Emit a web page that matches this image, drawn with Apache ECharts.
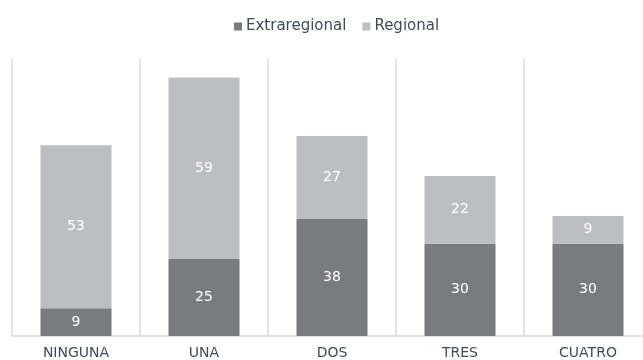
<!DOCTYPE html>
<html>
<head>
<meta charset="utf-8">
<script src="https://cdn.jsdelivr.net/npm/echarts@6/dist/echarts.min.js"></script>
<style>
  html, body { margin: 0; padding: 0; background: #ffffff; overflow: hidden; }
  /* the plot runs slightly past the right edge of the window */
  #chart { width: 660px; height: 360px; }
</style>
</head>
<body>
<div id="chart"></div>
<script>
// Categories and stacked series values
const categories = ['NINGUNA', 'UNA', 'DOS', 'TRES', 'CUATRO'];
const extraregional = [9, 25, 38, 30, 30];
const regional = [53, 59, 27, 22, 9];

const chart = echarts.init(document.getElementById('chart'));

const labelStyle = {
  show: true,
  position: 'inside',
  color: '#ffffff',
  fontFamily: '"DejaVu Sans", sans-serif',
  fontSize: 14
};

chart.setOption({
  animation: false,
  textStyle: { fontFamily: '"DejaVu Sans", sans-serif' },
  legend: {
    top: 14,
    left: 229,
    itemWidth: 8,
    itemHeight: 8,
    itemGap: 16,
    icon: 'rect',
    textStyle: { color: '#3f4a5a', fontSize: 15, padding: [0, 0, 0, -1] },
    data: ['Extraregional', 'Regional']
  },
  grid: { left: 12, width: 640, top: 59, bottom: 24, containLabel: false, outerBoundsMode: 'none' },
  xAxis: {
    type: 'category',
    data: categories,
    axisLine: { lineStyle: { color: '#d9d9d9', width: 1.5 } },
    axisTick: { show: false },
    axisLabel: { color: '#3f4a5a', fontSize: 14, margin: 10 },
    splitLine: { show: true, lineStyle: { color: '#dcdcdc', width: 1.5 } }
  },
  yAxis: {
    type: 'value',
    min: 0,
    max: 90,
    show: false,
    splitLine: { show: false }
  },
  series: [
    {
      name: 'Extraregional',
      type: 'bar',
      stack: 'total',
      barWidth: 71,
      data: extraregional,
      itemStyle: { color: '#7a7b7f' },
      label: labelStyle
    },
    {
      name: 'Regional',
      type: 'bar',
      stack: 'total',
      barWidth: 71,
      data: regional,
      itemStyle: { color: '#bdbec2' },
      label: labelStyle
    }
  ]
});
</script>
</body>
</html>
